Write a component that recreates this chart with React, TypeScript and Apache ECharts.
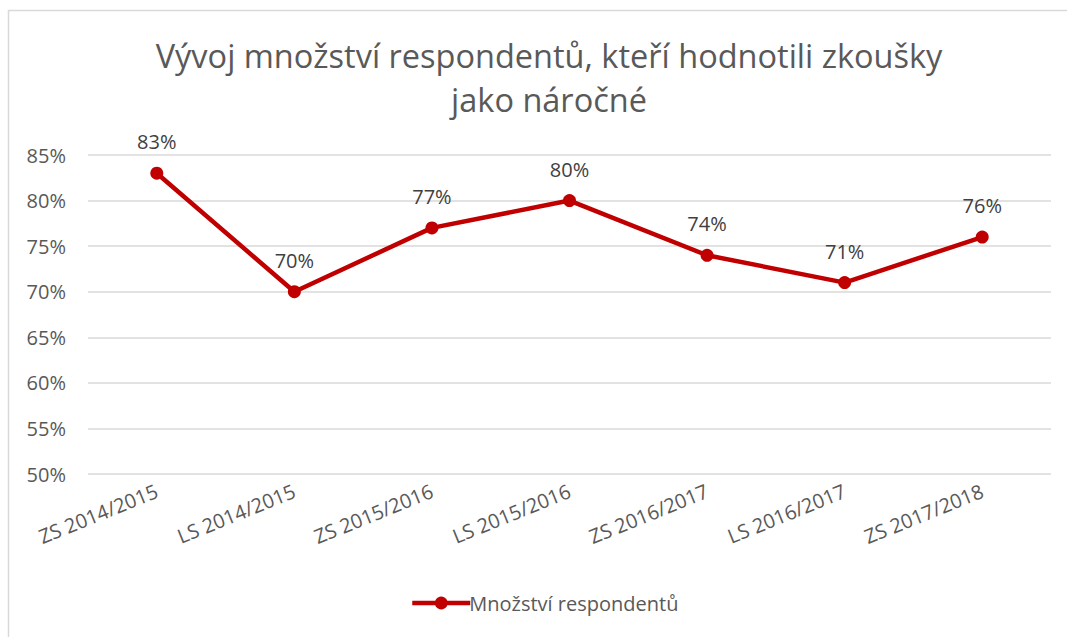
import React, { useEffect, useRef } from "react";
import * as echarts from "echarts";

const categories = ["ZS 2014/2015", "LS 2014/2015", "ZS 2015/2016", "LS 2015/2016", "ZS 2016/2017", "LS 2016/2017", "ZS 2017/2018"];
const values = [83, 70, 77, 80, 74, 71, 76];
const seriesName = "Množství respondentů";
const titleText = "Vývoj množství respondentů, kteří hodnotili zkoušky\njako náročné";

const FONT = "'Open Sans', 'Noto Sans', sans-serif";

export default function App() {
  const ref = useRef<HTMLDivElement>(null);
  useEffect(() => {
    document.body.style.margin = "0";
    const chart = echarts.init(ref.current!, null, { renderer: "svg" });
    chart.setOption({
      animation: false,
      backgroundColor: "#ffffff",
      textStyle: { fontFamily: FONT },
      graphic: [
        {
          type: "rect",
          shape: { x: 8.5, y: 10.5, width: 1080, height: 700 },
          style: { fill: "none", stroke: "#d9d9d9", lineWidth: 1.5 },
          silent: true,
        },
      ],
      title: {
        text: titleText,
        left: 544,
        textAlign: "center",
        top: 28,
        textStyle: { fontSize: 32.5, fontWeight: "normal", color: "#595959", lineHeight: 44, fontFamily: FONT },
      },
      legend: {
        bottom: 19,
        left: 405,
        itemWidth: 58,
        itemHeight: 16,
        itemGap: 10,
        lineStyle: { width: 4.5, color: "#c00000" },
        itemStyle: { color: "#c00000" },
        textStyle: { fontSize: 20, color: "#595959", fontFamily: FONT, padding: [0, 0, 0, -6] },
        data: [seriesName],
      },
      grid: { left: 88, right: 16, top: 155, height: 319, containLabel: false },
      xAxis: {
        type: "category",
        data: categories,
        boundaryGap: true,
        axisLine: { show: false },
        axisTick: { show: false },
        axisLabel: { rotate: 22, fontSize: 20, color: "#595959", margin: 16, fontFamily: FONT },
      },
      yAxis: {
        type: "value",
        min: 50,
        max: 85,
        interval: 5,
        axisLine: { show: false },
        axisTick: { show: false },
        axisLabel: { formatter: "{value}%", fontSize: 20, color: "#595959", margin: 22, fontFamily: FONT },
        splitLine: { lineStyle: { color: "#d9d9d9", width: 1.5 } },
      },
      series: [
        {
          name: seriesName,
          type: "line",
          data: values,
          symbol: "circle",
          symbolSize: 13,
          lineStyle: { color: "#c00000", width: 4.5 },
          itemStyle: { color: "#c00000" },
          label: {
            show: true,
            position: "top",
            distance: 15,
            formatter: "{c}%",
            fontSize: 20,
            color: "#404040",
            fontFamily: FONT,
          },
        },
      ],
    });
    return () => chart.dispose();
  }, []);
  return <div ref={ref} style={{ width: 1067, height: 637 }} />;
}
